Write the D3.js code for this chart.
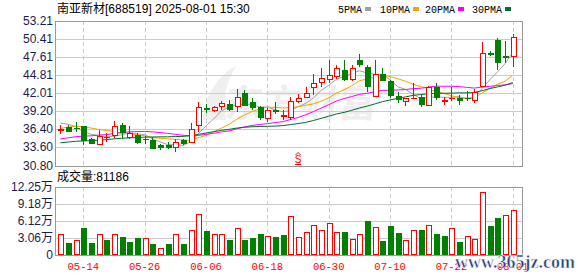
<!DOCTYPE html>
<html>
<head>
<meta charset="utf-8">
<script src="https://cdn.jsdelivr.net/npm/d3@7"></script>
<style>
  body { margin: 0; background: #fff; }
  svg { display: block; }
</style>
</head>
<body>
<svg id="chart" width="578" height="276"></svg>
<script>
// trading days shown
var dates = ["05-09","05-12","05-13","05-14","05-15","05-16","05-19","05-20","05-21","05-22",
  "05-23","05-26","05-27","05-28","05-29","05-30","06-03","06-04","06-05","06-06",
  "06-09","06-10","06-11","06-12","06-13","06-16","06-17","06-18","06-19","06-20",
  "06-23","06-24","06-25","06-26","06-27","06-30","07-01","07-02","07-03","07-04",
  "07-07","07-08","07-09","07-10","07-11","07-14","07-15","07-16","07-17","07-18",
  "07-21","07-22","07-23","07-24","07-25","07-28","07-29","07-30","07-31","08-01"];

var opens = [36.35,36.72,36.65,36.87,34.87,34.15,35.15,35.48,37.08,35.18,
  35.54,34.95,34.71,34.00,34.00,33.63,34.71,34.50,37.08,39.70,
  39.45,39.96,40.37,40.07,42.10,40.68,39.81,38.18,39.40,38.44,
  38.33,40.73,41.49,43.02,43.78,44.14,44.65,45.56,44.14,47.10,
  46.08,41.65,44.96,43.94,41.65,40.79,41.20,41.50,40.13,43.03,
  40.80,41.20,41.30,41.30,40.99,43.08,48.20,50.21,47.80,47.76];
var highs = [37.13,37.08,37.59,36.95,35.00,36.36,35.84,37.69,37.38,36.92,
  35.84,35.43,35.18,34.20,34.40,34.92,34.92,37.38,40.67,40.30,
  40.10,40.83,40.98,42.61,42.51,41.24,39.96,39.71,40.63,39.35,
  41.39,41.90,43.02,45.05,45.97,47.19,46.33,47.19,46.33,48.02,
  46.39,47.10,45.98,44.05,42.16,41.20,43.59,41.90,43.13,43.54,
  41.50,43.03,41.80,42.31,42.67,49.90,48.63,50.56,50.05,51.23];
var lows = [35.69,36.05,36.05,34.05,34.20,34.00,34.40,35.02,34.92,34.92,
  34.20,34.20,33.38,33.28,33.38,32.97,33.99,34.40,36.05,39.00,
  39.10,39.35,39.25,39.05,39.96,39.45,37.83,37.52,38.84,37.93,
  37.83,40.47,41.24,41.75,43.02,43.53,44.14,43.94,43.94,46.08,
  42.16,41.65,43.84,41.30,40.48,39.97,41.09,39.87,40.13,40.99,
  40.13,40.74,40.23,40.79,40.48,43.08,47.76,45.62,46.75,46.13];
var closes = [36.45,36.20,36.55,34.80,34.30,35.33,35.25,37.00,35.95,35.84,
  34.40,34.85,33.58,33.70,33.60,34.40,34.30,36.46,39.95,39.60,
  39.85,40.47,39.56,41.39,40.22,39.86,38.33,39.45,39.30,38.69,
  40.88,41.29,42.00,43.53,44.44,44.91,45.97,44.14,45.97,46.49,
  43.18,44.96,44.05,41.80,41.04,41.20,41.25,40.38,42.93,41.40,
  40.90,41.30,40.89,41.20,42.16,48.17,48.10,46.90,47.70,50.66];
// volume, in 万 shares
var volumes = [3.79,2.16,2.62,4.90,2.16,3.67,2.62,3.79,3.15,2.27,
  2.97,3.09,1.92,1.17,1.92,3.67,1.92,4.49,7.28,4.37,
  3.79,3.79,2.62,4.84,2.62,2.97,3.67,3.44,3.15,3.50,
  6.93,3.26,4.14,5.36,4.49,5.71,4.20,4.20,2.91,3.79,
  6.12,5.07,2.50,5.24,3.90,2.62,4.55,4.55,5.42,3.73,
  3.32,4.90,2.33,3.32,2.80,11.19,5.13,6.53,7.17,8.12];
// closes before 05-09, needed to start the moving averages
var priorCloses = [32.6,32.9,33.2,33.0,32.8,33.1,33.4,33.3,33.5,33.2,
  33.0,32.8,33.1,33.4,33.2,33.5,33.3,33.6,33.4,33.7,
  34.2,35.0,35.6,36.4,37.4,37.0,38.5,38.6,36.3];

var priceTicks = ["30.80","33.60","36.40","39.20","42.01","44.81","47.61","50.41","53.21"];
var volTicks = [0, 3.06, 6.12, 9.18, 12.25];
var volTickLabels = ["0","3.06万","6.12万","9.18万","12.25万"];
var xTickDates = ["05-14","05-26","06-06","06-18","06-30","07-10","07-22","08-01"];
var maPeriods = [5, 10, 20, 30];
var maNames = ["5PMA", "10PMA", "20PMA", "30PMA"];
var maColors = ["#a0a0a0", "#f5a300", "#ff00ff", "#006d32"];
var titleText = "南亚新材[688519] 2025-08-01 15:30";
var lastVolText = "成交量:81186";
var signalDate = "06-24";

var RED = "#ff0000", GREEN = "#008000";
var left = 55, right = 522;
var svg = d3.select("#chart");

var x = d3.scalePoint().domain(dates).range([60.3, 512.8]);
var y = d3.scaleLinear().domain([+priceTicks[0], +priceTicks[priceTicks.length - 1]]).range([165.5, 21]);
var yv = d3.scaleLinear().domain([0, 12.25]).range([255, 186.5]);

function px(v) { return Math.round(v) + 0.5; }

// watermark
svg.append("path")
  .attr("d", "M203,120 C205,95 218,75 236,66 C226,82 222,100 226,120 Z")
  .attr("fill", "#efefef");
svg.append("text").attr("x", 236).attr("y", 117)
  .attr("font-family", "Noto Sans CJK SC").attr("font-weight", "bold")
  .attr("font-size", 38).attr("fill", "#eeeeee").attr("transform", "skewX(-6)")
  .text("东方财富");

// grid of price panel
var g = svg.append("g").attr("shape-rendering", "crispEdges");
g.selectAll(".hg").data(priceTicks.slice(1, -1)).enter().append("line")
  .attr("x1", left).attr("x2", right)
  .attr("y1", function (d) { return px(y(+d)); }).attr("y2", function (d) { return px(y(+d)); })
  .attr("stroke", "#cccccc");
g.selectAll(".hv").data(volTicks.slice(1, -1)).enter().append("line")
  .attr("x1", left).attr("x2", right)
  .attr("y1", function (d) { return px(yv(d)); }).attr("y2", function (d) { return px(yv(d)); })
  .attr("stroke", "#cccccc");
xTickDates.forEach(function (d) {
  [[21, 165.5], [186.5, 255]].forEach(function (r) {
    g.append("line").attr("x1", px(x(d))).attr("x2", px(x(d)))
      .attr("y1", r[0]).attr("y2", r[1])
      .attr("stroke", "#cccccc").attr("stroke-dasharray", "4,3");
  });
});
[[21, 165.5], [186.5, 255]].forEach(function (r) {
  g.append("rect").attr("x", left + 0.5).attr("y", Math.round(r[0]) + 0.5)
    .attr("width", right - left).attr("height", Math.round(r[1]) - Math.round(r[0]))
    .attr("fill", "none").attr("stroke", "#999999");
});

// moving averages
var allCloses = priorCloses.concat(closes);
var off = priorCloses.length;
maPeriods.forEach(function (n, k) {
  var ma = closes.map(function (c, i) {
    return d3.mean(allCloses.slice(off + i - n + 1, off + i + 1));
  });
  svg.append("path").datum(ma)
    .attr("fill", "none").attr("stroke", maColors[k]).attr("stroke-width", 1)
    .attr("d", d3.line().x(function (d, i) { return x(dates[i]); }).y(function (d) { return y(d); }));
});

// candles
var cg = svg.append("g").attr("shape-rendering", "crispEdges");
dates.forEach(function (d, i) {
  var o = opens[i], c = closes[i], up = c >= o;
  var col = up ? RED : GREEN;
  var cx = px(x(d));
  cg.append("line").attr("x1", cx).attr("x2", cx)
    .attr("y1", y(highs[i])).attr("y2", y(lows[i])).attr("stroke", col);
  var top = Math.round(y(Math.max(o, c))), bot = Math.round(y(Math.min(o, c)));
  if (bot - top < 1) {
    cg.append("line").attr("x1", cx - 3).attr("x2", cx + 3)
      .attr("y1", top + 0.5).attr("y2", top + 0.5).attr("stroke", col);
  } else if (up) {
    cg.append("rect").attr("x", cx - 2.5).attr("y", top + 0.5).attr("width", 5).attr("height", bot - top)
      .attr("fill", "#fff").attr("stroke", col);
  } else {
    cg.append("rect").attr("x", cx - 2.5).attr("y", top + 0.5).attr("width", 5).attr("height", bot - top)
      .attr("fill", col).attr("stroke", col);
  }
});

// volume bars, coloured by change from previous close
var vg = svg.append("g").attr("shape-rendering", "crispEdges");
dates.forEach(function (d, i) {
  var prev = i === 0 ? priorCloses[priorCloses.length - 1] : closes[i - 1];
  var up = closes[i] >= prev;
  var cx = px(x(d));
  var top = Math.round(yv(volumes[i]));
  vg.append("rect").attr("x", cx - 2.5).attr("y", top + 0.5)
    .attr("width", 5).attr("height", 255 - top - 1)
    .attr("fill", up ? "#fff" : GREEN).attr("stroke", up ? RED : GREEN);
});

// signal mark
var sx = x(signalDate);
svg.append("path").attr("d", "M" + (sx - 2.5) + ",155 L" + sx + ",152.5 L" + (sx + 2.5) + ",155")
  .attr("fill", "none").attr("stroke", RED);
svg.append("text").attr("x", sx).attr("y", 163).attr("text-anchor", "middle")
  .attr("font-family", "Liberation Sans").attr("font-size", 10).attr("fill", RED).text("S");
svg.append("line").attr("x1", sx - 3).attr("x2", sx + 3).attr("y1", 164.5).attr("y2", 164.5).attr("stroke", RED);

// axis labels
var labelColor = "#1c1c48";
svg.selectAll(".pl").data(priceTicks).enter().append("text")
  .attr("x", 53).attr("y", function (d) { return y(+d) + 4; })
  .attr("text-anchor", "end").attr("font-family", "Liberation Sans").attr("font-size", 12)
  .attr("fill", labelColor).text(function (d) { return d; });
svg.selectAll(".vl").data(volTicks).enter().append("text")
  .attr("x", 53).attr("y", function (d, i) { return yv(d) + 4; })
  .attr("text-anchor", "end").attr("font-family", "Liberation Sans, Noto Sans CJK SC").attr("font-size", 12)
  .attr("fill", labelColor).text(function (d, i) { return volTickLabels[i]; });
svg.selectAll(".xl").data(xTickDates).enter().append("text")
  .attr("x", function (d) { return x(d); }).attr("y", 270)
  .attr("text-anchor", "middle").attr("font-family", "Liberation Mono").attr("font-size", 10.5)
  .attr("fill", RED).text(function (d) { return d; });

// title, legend, volume caption
svg.append("text").attr("x", 57).attr("y", 13)
  .attr("font-family", "Liberation Sans, Noto Sans CJK SC").attr("font-size", 12)
  .attr("fill", "#000").text(titleText);
var lx = [338, 380, 425, 472];
maNames.forEach(function (n, k) {
  var t = svg.append("text").attr("x", lx[k]).attr("y", 13)
    .attr("font-family", "Liberation Mono").attr("font-size", 10).attr("fill", "#000").text(n);
  var w = t.node().getComputedTextLength();
  svg.append("rect").attr("x", lx[k] + w + 3).attr("y", 7).attr("width", 6).attr("height", 4)
    .attr("fill", maColors[k]);
});
svg.append("text").attr("x", 57).attr("y", 181)
  .attr("font-family", "Liberation Sans, Noto Sans CJK SC").attr("font-size", 12)
  .attr("fill", "#000").text(lastVolText);

svg.append("text").attr("x", 455).attr("y", 268)
  .attr("font-family", "Liberation Serif").attr("font-weight", "bold").attr("font-size", 18)
  .attr("fill", "#1f3c7a").attr("stroke", "#fff").attr("stroke-width", 0.5)
  .text("www.365jz.com");
</script>
</body>
</html>
